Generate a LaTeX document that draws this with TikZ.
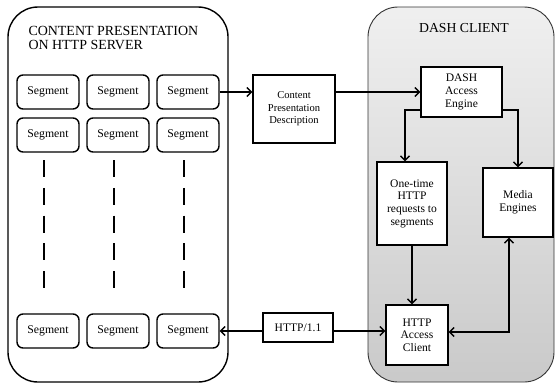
\documentclass[tikz,border=0pt]{standalone}
\usepackage{fontspec}
\setmainfont{Liberation Serif}
\usetikzlibrary{arrows.meta}

\tikzset{
  seg/.style={draw, line width=1.4bp, rounded corners=6bp, inner sep=0pt,
    minimum width=62bp, minimum height=34bp, font=\fontsize{11.8}{12.6}\selectfont},
  blk/.style={draw, line width=1.4bp, fill=white, inner sep=0pt, align=center,
    font=\fontsize{11.6}{12.7}\selectfont},
  flow/.style={line width=1.4bp, -{Straight Barb[length=4.5bp,width=9bp]}},
}

\begin{document}
\begin{tikzpicture}[x=1bp,y=-1bp]
  \useasboundingbox (0,0) rectangle (558,388);

  % containers
  \node[draw, line width=1.4bp, rounded corners=30bp, minimum width=220bp,
    minimum height=375bp] (server) at (118,194.5) {};
  \node[draw=black!80, line width=0.9bp, rounded corners=30bp, top color=black!6,
    bottom color=black!21, minimum width=186bp, minimum height=375bp] (client) at (461,194.5) {};
  \node[anchor=west, align=left, font=\fontsize{14}{15}\selectfont] (srvtitle) at (25,38)
    {CONTENT PRESENTATION\\ON HTTP SERVER};
  \node[font=\fontsize{13.8}{15}\selectfont] (clititle) at (464,28) {DASH CLIENT};

  % segments
  \foreach \c/\x in {1/48,2/118,3/188} {
    \node[seg] (s1\c) at (\x,92) {Segment};
    \node[seg] (s2\c) at (\x,135) {Segment};
    \node[seg] (s3\c) at (\x,331) {Segment};
    \draw[line width=2bp, dash pattern=on 17bp off 10.75bp] (\x-4,160) -- (\x-4,288);
  }

  % client side blocks
  \node[blk, minimum width=82bp, minimum height=68bp, font=\fontsize{10.6}{12.5}\selectfont]
    (cpd) at (294,109) {Content\\Presentation\\Description};
  \node[blk, minimum width=81bp, minimum height=50bp] (engine) at (461.5,92) {DASH\\Access\\Engine};
  \node[blk, minimum width=70bp, minimum height=83bp] (onetime) at (412,203.5)
    {One-time\\HTTP\\requests to\\segments};
  \node[blk, minimum width=70bp, minimum height=69bp] (media) at (518,202.5) {Media\\Engines};
  \node[blk, minimum width=62bp, minimum height=60bp] (access) at (417,335) {HTTP\\Access\\Client};
  \node[blk, minimum width=70bp, minimum height=29bp] (http) at (298,327.5) {HTTP/1.1};

  % connectors
  \draw[flow] (s13.east) -- (s13.east -| cpd.west);
  \draw[flow] (cpd.east |- engine.west) -- (engine.west);
  \draw[flow] ([yshift=-18bp]engine.west) -| ([xshift=-7bp]onetime.north);
  \draw[flow] ([yshift=-18bp]engine.east) -| (media.north);
  \draw[flow] (onetime.south) -- (onetime.south |- access.north);
  \draw[flow, {Straight Barb[length=4.5bp,width=9bp]}-{Straight Barb[length=4.5bp,width=9bp]}]
    ([xshift=-9bp]media.south) |- ([yshift=3bp]access.east);
  \draw[flow] (http.west |- s33.east) -- (s33.east);
  \draw[flow] (http.east |- s33.east) -- (access.west |- s33.east);
\end{tikzpicture}
\end{document}
